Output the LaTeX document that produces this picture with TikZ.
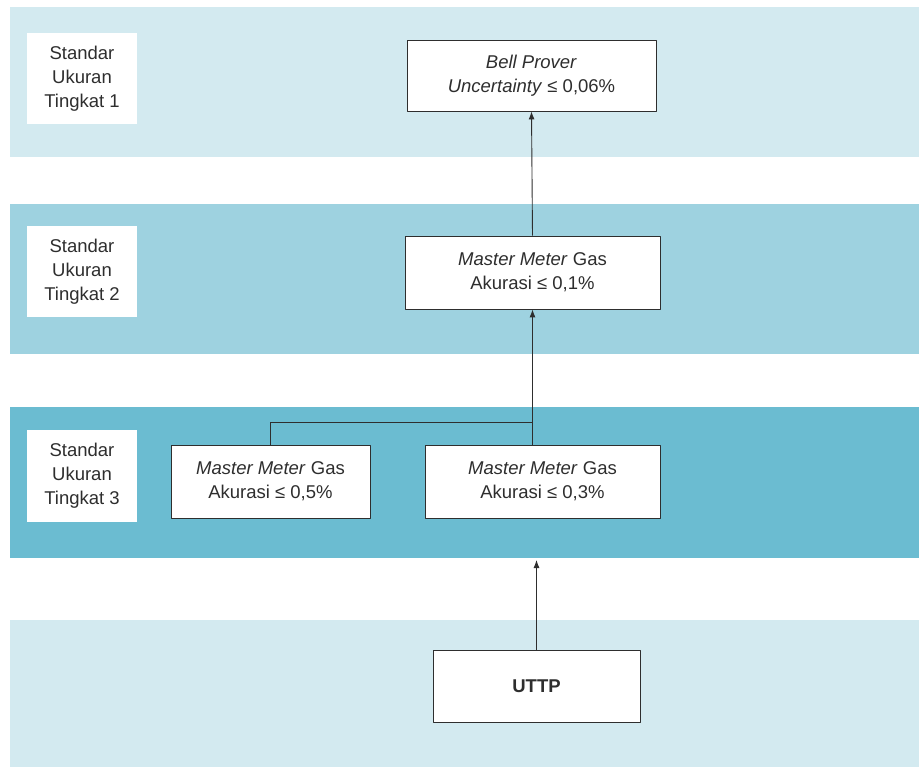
\documentclass[tikz,border=0pt]{standalone}
\usepackage{fontspec}
\setmainfont{Liberation Sans}
\usetikzlibrary{arrows.meta}
\definecolor{bandA}{HTML}{D3EAF0}
\definecolor{bandB}{HTML}{9ED2E0}
\definecolor{bandC}{HTML}{6BBCD1}
\definecolor{ink}{HTML}{2E2E2E}
\tikzset{
	box/.style={draw=ink, fill=white, line width=0.9pt, align=center, text=ink, inner sep=2pt},
	tierlabel/.style={fill=white, align=center, text=ink, minimum width=110pt, minimum height=91pt, inner sep=0pt},
	link/.style={draw=ink, line width=0.9pt}
}
\begin{document}
\begin{tikzpicture}[>={Latex[length=8pt,width=6pt]}, line join=round, x=1pt, y=-1pt, font=\fontsize{18.5}{24}\selectfont]
	\useasboundingbox (0,0) rectangle (919,767);
	% Pita tingkat
	\foreach \ya/\yb/\c in {7/157/bandA, 204/354/bandB, 407/558/bandC, 620/767/bandA}
		\fill[\c] (10,\ya) rectangle (919,\yb);
	% Label tingkat
	\foreach \y/\n in {79/1, 271.5/2, 476/3}
		\node[tierlabel] (lbl\n) at (82,\y) {Standar\\Ukuran\\Tingkat \n};
	% Kotak standar
	\node[box, minimum width=249pt, minimum height=71pt] (bell) at (531.5,75.5) {\textit{Bell Prover}\\\textit{Uncertainty} ≤ 0,06\%};
	\node[box, minimum width=255pt, minimum height=73pt] (mmtwo) at (532.5,272.5) {\textit{Master Meter} Gas\\Akurasi ≤ 0,1\%};
	\node[box, minimum width=199pt, minimum height=73pt] (mmleft) at (270.5,481.5) {\textit{Master Meter} Gas\\Akurasi ≤ 0,5\%};
	\node[box, minimum width=235pt, minimum height=73pt] (mmright) at (542.5,481.5) {\textit{Master Meter} Gas\\Akurasi ≤ 0,3\%};
	\node[box, minimum width=207pt, minimum height=72pt, font=\fontsize{18.5}{24}\selectfont\bfseries] (uttp) at (536.5,686) {UTTP};
	% Titik bantu
	\coordinate (join) at (532,422);
	\coordinate (tierend) at (uttp.north |- 0,560);
	% Hubungan ketertelusuran
	\draw[link, ->] (mmtwo.north) -- (bell.south);
	\draw[link, ->] (mmtwo.south |- mmright.north) -- (mmtwo.south);
	\draw[link] (mmleft.north) |- (join);
	\draw[link, ->] (uttp.north) -- (tierend);
\end{tikzpicture}
\end{document}
